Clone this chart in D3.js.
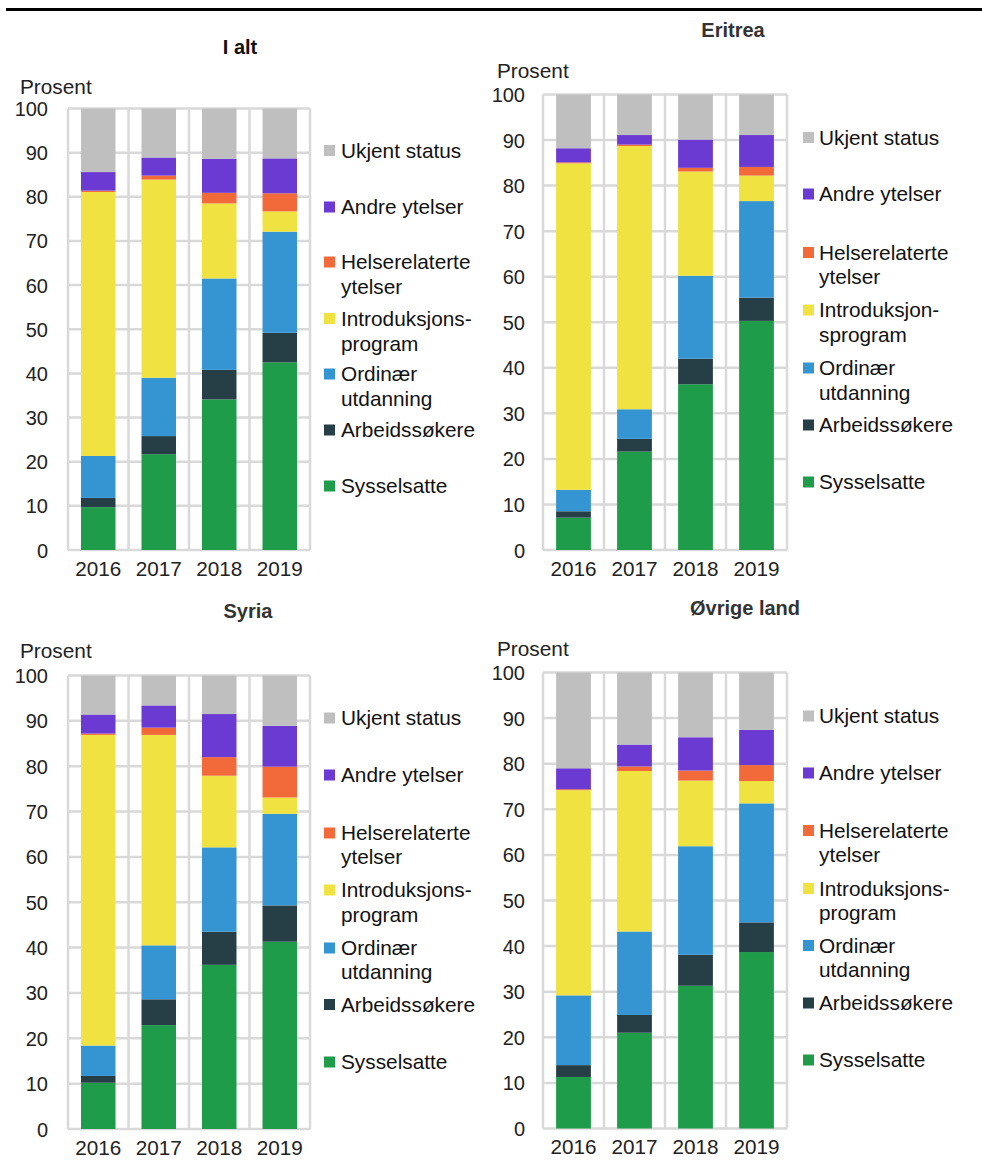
<!DOCTYPE html>
<html><head><meta charset="utf-8">
<script src="https://cdn.jsdelivr.net/npm/d3@7"></script>
<style>
html,body{margin:0;padding:0;background:#fff;}
svg{display:block;font-family:"Liberation Sans",Arial,sans-serif;}
</style></head>
<body>
<svg id="chart" width="982" height="1162"></svg>
<script>
const years = ["2016","2017","2018","2019"];
const seriesNames = ["Sysselsatte","Arbeidssøkere","Ordinær utdanning","Introduksjonsprogram","Helserelaterte ytelser","Andre ytelser","Ukjent status"];
const seriesColors = ["#1e9c4a","#263f47","#3594d2","#efe241","#f26a3a","#6b3ad3","#bfbfbf"];
const yTicks = [0,10,20,30,40,50,60,70,80,90,100];

// values per series (order as seriesNames), per year
const iAltValues = [
  [9.7,21.7,34.1,42.5],
  [2.1,4.1,6.7,6.7],
  [9.5,13.2,20.7,22.9],
  [59.8,44.9,17.0,4.6],
  [0.3,0.9,2.4,4.1],
  [4.2,4.1,7.7,7.9],
  [14.4,11.1,11.4,11.3]
];
const eritreaValues = [
  [7.1,21.6,36.4,50.3],
  [1.4,2.8,5.6,5.1],
  [4.7,6.5,18.2,21.2],
  [71.7,57.8,22.9,5.6],
  [0.2,0.3,0.8,1.9],
  [3.1,2.1,6.2,7.0],
  [11.8,8.9,9.9,8.9]
];
const syriaValues = [
  [10.2,22.9,36.2,41.3],
  [1.5,5.7,7.3,8.0],
  [6.7,11.9,18.6,20.2],
  [68.5,46.4,15.8,3.6],
  [0.3,1.6,4.1,6.8],
  [4.2,4.9,9.5,9.0],
  [8.6,6.6,8.5,11.1]
];
const ovrigeValues = [
  [11.3,21.0,31.3,38.7],
  [2.6,3.9,6.8,6.5],
  [15.3,18.3,23.8,26.1],
  [45.0,35.2,14.4,4.9],
  [0.2,1.0,2.2,3.5],
  [4.6,4.8,7.3,7.7],
  [21.0,15.8,14.2,12.6]
];
const titles = ["I alt","Eritrea","Syria","Øvrige land"];
const legendLabelsA = [["Sysselsatte"],["Arbeidssøkere"],["Ordinær","utdanning"],["Introduksjons-","program"],["Helserelaterte","ytelser"],["Andre ytelser"],["Ukjent status"]];
const legendLabelsB = [["Sysselsatte"],["Arbeidssøkere"],["Ordinær","utdanning"],["Introduksjon-","sprogram"],["Helserelaterte","ytelser"],["Andre ytelser"],["Ukjent status"]];

const panels = [
  {values:iAltValues, title:titles[0], labels:legendLabelsA, x0:68, x1:310, yTop:108.5, yBot:550, titleX:240, titleY:47, prosX:20, prosY:87, yLabX:48, yearY:569, legSw:324, legTx:341,
   legY:[486,430,[374,399],[318.5,343.5],[262,286.5],207,150.5]},
  {values:eritreaValues, title:titles[1], labels:legendLabelsB, x0:543, x1:787, yTop:94.5, yBot:550, titleX:733, titleY:29.5, prosX:497, prosY:71, yLabX:525, yearY:569, legSw:803, legTx:819,
   legY:[482,425,[368,392.5],[310,335],[252.5,277],194,137.5]},
  {values:syriaValues, title:titles[2], labels:legendLabelsA, x0:68, x1:310, yTop:675.5, yBot:1129, titleX:248, titleY:611, prosX:20, prosY:650.5, yLabX:48, yearY:1148, legSw:324, legTx:341,
   legY:[1062,1004.5,[948,972],[890,914.5],[833,857],775,718]},
  {values:ovrigeValues, title:titles[3], labels:legendLabelsA, x0:543, x1:787, yTop:672.5, yBot:1128.5, titleX:745, titleY:608, prosX:497, prosY:648.5, yLabX:525, yearY:1147, legSw:803, legTx:819,
   legY:[1060,1003,[945.5,970],[888.5,912.5],[830.5,855],773,716]}
];

const svg = d3.select("#chart");

// top rule
svg.append("line").attr("x1",6).attr("x2",982).attr("y1",9.5).attr("y2",9.5)
  .attr("stroke","#000").attr("stroke-width",3);

const gridColor = "#d9d9d9";

panels.forEach(p => {
  const g = svg.append("g");
  const x = d3.scaleBand().domain(years).range([p.x0,p.x1]).padding(0);
  const y = d3.scaleLinear().domain([0,100]).range([p.yBot,p.yTop]);

  // horizontal gridlines
  g.append("g").selectAll("line").data(yTicks).join("line")
    .attr("x1",p.x0).attr("x2",p.x1)
    .attr("y1",d=>y(d)).attr("y2",d=>y(d))
    .attr("stroke",gridColor).attr("stroke-width",2.5);
  // vertical category separators
  g.append("g").selectAll("line").data(d3.range(years.length+1)).join("line")
    .attr("x1",i=>p.x0+i*x.step()).attr("x2",i=>p.x0+i*x.step())
    .attr("y1",p.yTop).attr("y2",p.yBot)
    .attr("stroke",gridColor).attr("stroke-width",2.5);

  // stacked data
  const rows = years.map((yr,i)=>{
    const r = {year:yr};
    seriesNames.forEach((s,k)=>{ r[s] = p.values[k][i]; });
    return r;
  });
  const stacked = d3.stack().keys(seriesNames)(rows);
  const bw = x.bandwidth()*0.57;
  g.append("g").selectAll("g").data(stacked).join("g")
    .attr("fill",(d,k)=>seriesColors[k])
    .selectAll("rect").data(d=>d).join("rect")
    .attr("x",d=>x(d.data.year)+(x.bandwidth()-bw)/2)
    .attr("width",bw)
    .attr("y",d=>y(Math.min(d[1],100)))
    .attr("height",d=>Math.max(0,y(d[0])-y(Math.min(d[1],100))));

  // y-axis labels
  const yAxis = d3.axisLeft(y).tickValues(yTicks).tickSize(0).tickPadding(0);
  const ya = g.append("g").attr("transform",`translate(${p.yLabX},0)`).call(yAxis);
  ya.select(".domain").remove();
  ya.selectAll("text").attr("font-size",20).attr("fill","#222").attr("font-family","Liberation Sans, Arial, sans-serif")
    .attr("dy","0.35em").attr("x",0);

  // x-axis labels
  const xAxis = d3.axisBottom(x).tickSize(0).tickPadding(0);
  const xa = g.append("g").attr("transform",`translate(0,${p.yearY})`).call(xAxis);
  xa.select(".domain").remove();
  xa.selectAll("text").attr("font-size",20.7).attr("fill","#222").attr("font-family","Liberation Sans, Arial, sans-serif")
    .attr("dy","0.35em").attr("y",0);

  // title
  g.append("text").attr("x",p.titleX).attr("y",p.titleY).attr("dy","0.35em")
    .attr("text-anchor","middle").attr("font-size",20).attr("font-weight","bold")
    .attr("fill", p.title==="I alt" ? "#111" : "#333").text(p.title);
  // Prosent
  g.append("text").attr("x",p.prosX).attr("y",p.prosY).attr("dy","0.35em")
    .attr("font-size",20.8).attr("fill","#222").text("Prosent");

  // legend
  seriesNames.forEach((s,k)=>{
    const ly = p.legY[k];
    const lines = p.labels[k];
    const firstY = Array.isArray(ly) ? ly[0] : ly;
    g.append("rect").attr("x",p.legSw).attr("y",firstY-5.5).attr("width",11).attr("height",11)
      .attr("fill",seriesColors[k]);
    lines.forEach((t,j)=>{
      const yy = Array.isArray(ly) ? ly[j] : ly;
      g.append("text").attr("x",p.legTx).attr("y",yy).attr("dy","0.35em")
        .attr("font-size",20.8).attr("fill","#111").text(t);
    });
  });
});
</script>
</body></html>
